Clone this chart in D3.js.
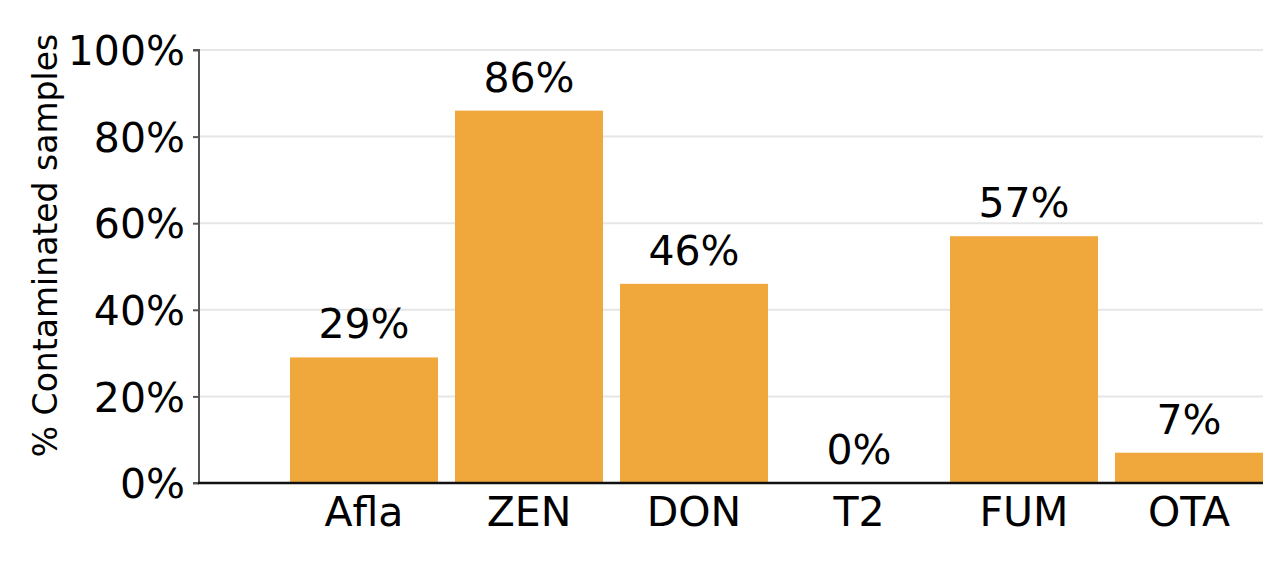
<!DOCTYPE html>
<html><head><meta charset="utf-8">
<script src="https://cdn.jsdelivr.net/npm/d3@7"></script>
<style>
html,body{margin:0;padding:0;background:#fff;}
svg{display:block;font-family:"DejaVu Sans",sans-serif;}
</style></head>
<body><svg id="chart" width="1280" height="585"></svg>
<script>
const categories = ["Afla","ZEN","DON","T2","FUM","OTA"];
const values = [29, 86, 46, 0, 57, 7];
const yTicks = [0, 20, 40, 60, 80, 100];
const yTitle = "% Contaminated samples";

const svg = d3.select("#chart");
const plotLeft = 199, plotRight = 1263, plotTop = 50, plotBottom = 483;

const x = d3.scaleBand().domain(categories).range([281.5, 1271.5])
  .paddingInner(0.103).paddingOuter(0.0515);
const y = d3.scaleLinear().domain([0, 100]).range([plotBottom, plotTop]);

// gridlines
svg.append("g").selectAll("line").data(yTicks.filter(d => d > 0)).join("line")
  .attr("x1", plotLeft).attr("x2", plotRight)
  .attr("y1", d => y(d)).attr("y2", d => y(d))
  .attr("stroke", "#e6e6e6").attr("stroke-width", 2);

// bars
svg.append("g").selectAll("rect").data(categories).join("rect")
  .attr("x", d => x(d)).attr("width", x.bandwidth())
  .attr("y", (d, i) => y(values[i]))
  .attr("height", (d, i) => plotBottom - y(values[i]))
  .attr("fill", "#F0A83D");

// bar labels
svg.append("g").selectAll("text").data(categories).join("text")
  .attr("x", d => x(d) + x.bandwidth() / 2)
  .attr("y", (d, i) => y(values[i]) - 19)
  .attr("text-anchor", "middle").attr("font-size", 41).attr("fill", "#000")
  .text((d, i) => values[i] + "%");

// y axis
const yAxis = d3.axisLeft(y).tickValues(yTicks).tickSize(6).tickPadding(8)
  .tickFormat(d => d + "%");
const gy = svg.append("g").attr("transform", `translate(${plotLeft},0)`).call(yAxis);
gy.select(".domain").attr("stroke", "#555").attr("stroke-width", 2)
  .attr("d", `M-6,${plotTop}H0V${plotBottom}H-6`);
gy.selectAll(".tick line").attr("stroke", "#555").attr("stroke-width", 2);
gy.selectAll(".tick text").attr("font-size", 41).attr("fill", "#000")
  .attr("font-family", "DejaVu Sans").attr("dy", "0.36em");

// x axis
const xAxis = d3.axisBottom(x).tickSize(0).tickPadding(14);
const gx = svg.append("g").attr("transform", `translate(0,${plotBottom})`).call(xAxis);
gx.select(".domain").remove();
gx.append("line").attr("x1", plotLeft - 1).attr("x2", plotRight)
  .attr("y1", 0).attr("y2", 0).attr("stroke", "#111").attr("stroke-width", 2.5);
gx.selectAll(".tick text").attr("font-size", 41).attr("fill", "#000")
  .attr("font-family", "DejaVu Sans").attr("dy", "0.70em");

// y title
svg.append("text")
  .attr("transform", `translate(57,${(plotTop + plotBottom) / 2 - 21}) rotate(-90)`)
  .attr("text-anchor", "middle").attr("font-size", 33).attr("fill", "#000")
  .text(yTitle);
</script></body></html>
